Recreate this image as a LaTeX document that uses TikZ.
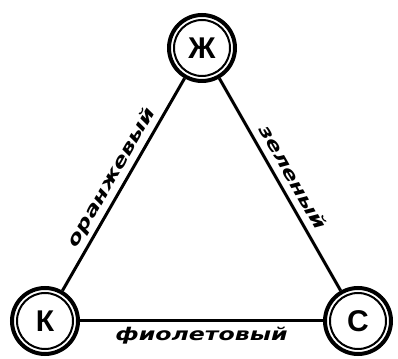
\documentclass[tikz,border=0pt]{standalone}
\usepackage{fontspec}
\setmainfont{DejaVu Sans}
\newfontfamily\capfont{Liberation Sans}
\newfontfamily\lblfont[FakeStretch=1.35]{DejaVu Sans}
\begin{document}
\begin{tikzpicture}[x=1pt,y=1pt,
  station/.style={circle, draw, line width=4pt, minimum size=66pt, inner sep=0pt,
    font=\capfont\bfseries\fontsize{30}{30}\selectfont},
  ring/.style={line width=2pt},
  edge/.style={line width=3pt},
  lbl/.style={font=\lblfont\bfseries\itshape\fontsize{17.5}{17.5}\selectfont, inner sep=0pt, text depth=0pt}]
\useasboundingbox (0,0) rectangle (398,358);
\node[station] (zh) at (202,310) {Ж};
\node[station] (k) at (45,37) {К};
\node[station] (s) at (358,37) {С};
\foreach \n in {zh,k,s} \draw[ring] (\n.center) circle (28);
\draw[edge] (k) -- node[lbl, sloped, above=7pt] {оранжевый} (zh);
\draw[edge] (zh) -- node[lbl, sloped, above=7pt] {зеленый} (s);
\draw[edge] (k) -- node[lbl, anchor=base, yshift=-20pt] {фиолетовый} (s);
\end{tikzpicture}
\end{document}
